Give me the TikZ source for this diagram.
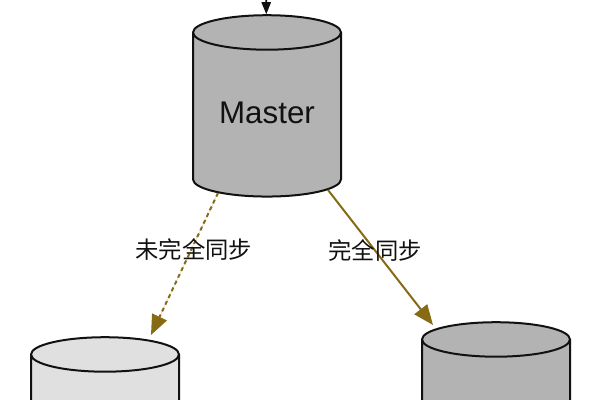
\documentclass[tikz,border=0pt]{standalone}
\usepackage{fontspec}
\setmainfont{Liberation Sans}
\newfontfamily\cjk{Noto Sans CJK SC}
\usetikzlibrary{positioning,arrows.meta,calc,shapes.geometric}
\definecolor{inkc}{HTML}{111111}
\definecolor{mastc}{HTML}{B3B3B3}
\definecolor{slvc}{HTML}{E0E0E0}
\definecolor{syncc}{HTML}{876A14}
\tikzset{
  db/.style    ={cylinder,shape border rotate=90,draw=inkc,line width=1.5pt,
                 minimum width=111pt,minimum height=136pt,aspect=.36,inner sep=0pt,
                 cylinder uses custom fill,font=\fontsize{23.5}{26}\selectfont,text=inkc},
  dbm/.style   ={db,cylinder body fill=mastc,cylinder end fill=mastc},
  dbs/.style   ={db,cylinder body fill=slvc,cylinder end fill=slvc},
  lbl/.style   ={font=\cjk\fontsize{17.5}{20}\selectfont,text=inkc},
  ar/.style    ={-{Triangle[length=15pt,width=12pt]},line width=1.5pt},
  arK/.style   ={-{Triangle[length=9pt,width=7pt]},draw=inkc,line width=1.2pt},
  arF/.style   ={ar,draw=syncc,fill=syncc},
  arP/.style   ={arF,dash pattern=on 3pt off 2.6pt},
}

\begin{document}
\begin{tikzpicture}[x=0.75pt,y=-0.75pt]
\useasboundingbox (0,0) rectangle (600,400);
\clip (0,0) rectangle (600,400);

% ---- databases ------------------------------------------------------------
\node[dbm] (master) at (267,115) {\raisebox{3pt}{Master}};
\node[dbs] (slaveL) at (105,437) {\phantom{Master}};
\node[dbm] (slaveR) at (496,422) {\phantom{Master}};

% ---- replication ----------------------------------------------------------
\coordinate (src) at (266,-30);
\draw[arK] (src) -- (master);
\draw[arP] ($(master.center)+(-49,78)$) -- ($(slaveL.center)+(46,-102)$)
  node[lbl,pos=.4,xshift=2pt] {未完全同步};
\draw[arF] ($(master.center)+(61,75)$) -- ($(slaveR.center)+(-63,-97)$)
  node[lbl,pos=.45] {完全同步};
\end{tikzpicture}
\end{document}
